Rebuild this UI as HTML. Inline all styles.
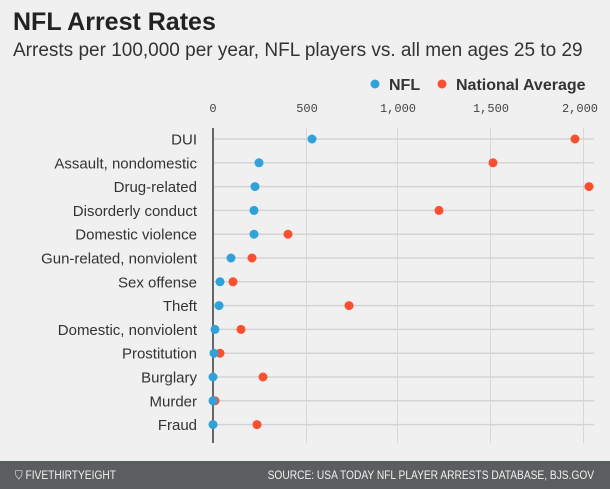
<!DOCTYPE html><html><head><meta charset="utf-8"><style>
body{margin:0;width:610px;height:489px;background:#f0f0f0;font-family:"Liberation Sans",sans-serif;overflow:hidden;position:relative}
.t{position:absolute;left:13px;top:8px;font-size:25px;font-weight:bold;color:#222}
.s{position:absolute;left:13px;top:40px;font-size:19px;color:#333}
.f{position:absolute;left:0;top:461px;width:610px;height:28px;background:#5b5e5f;color:#f0f0f0;font-family:"Liberation Sans Narrow","Liberation Sans",sans-serif;font-size:12px;line-height:28px}
.f span{position:absolute;white-space:nowrap}
</style></head><body>
<div class="t">NFL Arrest Rates</div>
<div class="s">Arrests per 100,000 per year, NFL players vs. all men ages 25 to 29</div>
<svg width="610" height="461" style="position:absolute;left:0;top:0" font-family="Liberation Sans, sans-serif">
<circle cx="375" cy="84" r="4.5" fill="#30a2da"/><text x="389" y="90" font-size="16" font-weight="bold" fill="#333">NFL</text>
<circle cx="442" cy="84" r="4.5" fill="#fc4f30"/><text x="456" y="90" font-size="16" font-weight="bold" fill="#333">National Average</text>
<g font-family="Liberation Mono, monospace" font-size="12" fill="#444" text-anchor="middle">
<text x="213" y="112">0</text><text x="307" y="112">500</text><text x="398" y="112">1,000</text><text x="491" y="112">1,500</text><text x="580" y="112">2,000</text></g>
<g stroke="#d8d8d8" stroke-width="1"><line x1="306.5" y1="128" x2="306.5" y2="443"/><line x1="397.5" y1="128" x2="397.5" y2="443"/><line x1="490.5" y1="128" x2="490.5" y2="443"/><line x1="583.5" y1="128" x2="583.5" y2="443"/></g>
<g id="rows" font-size="15" fill="#333" text-anchor="end"></g>
<line x1="213" y1="128" x2="213" y2="443" stroke="#666" stroke-width="2"/>
<g id="dots"></g>
</svg>
<div class="f"><span style="left:15px;transform:scaleX(0.85);transform-origin:left">&#x26C9; FIVETHIRTYEIGHT</span><span style="right:16px;transform:scaleX(0.85);transform-origin:right">SOURCE: USA TODAY NFL PLAYER ARRESTS DATABASE, BJS.GOV</span></div>
<script>
var d=[["DUI",312,575],["Assault, nondomestic",259,493],["Drug-related",255,589],["Disorderly conduct",254,439],["Domestic violence",254,288],["Gun-related, nonviolent",231,252],["Sex offense",220,233],["Theft",219,349],["Domestic, nonviolent",215,241],["Prostitution",214,220],["Burglary",213,263],["Murder",213,215],["Fraud",213,257]];
var r=document.getElementById("rows"),g=document.getElementById("dots"),h="",k="";
d.forEach(function(a,i){var y=139+i*23.8;
h+='<line x1="213" y1="'+y+'" x2="594" y2="'+y+'" stroke="#d4d4d4" stroke-width="1.5"/><text x="197" y="'+(y+5.5)+'">'+a[0]+'</text>';
k+='<circle cx="'+a[2]+'" cy="'+y+'" r="4.5" fill="#fc4f30"/><circle cx="'+a[1]+'" cy="'+y+'" r="4.5" fill="#30a2da"/>';});
r.innerHTML=h;g.innerHTML=k;
</script>
</body></html>
